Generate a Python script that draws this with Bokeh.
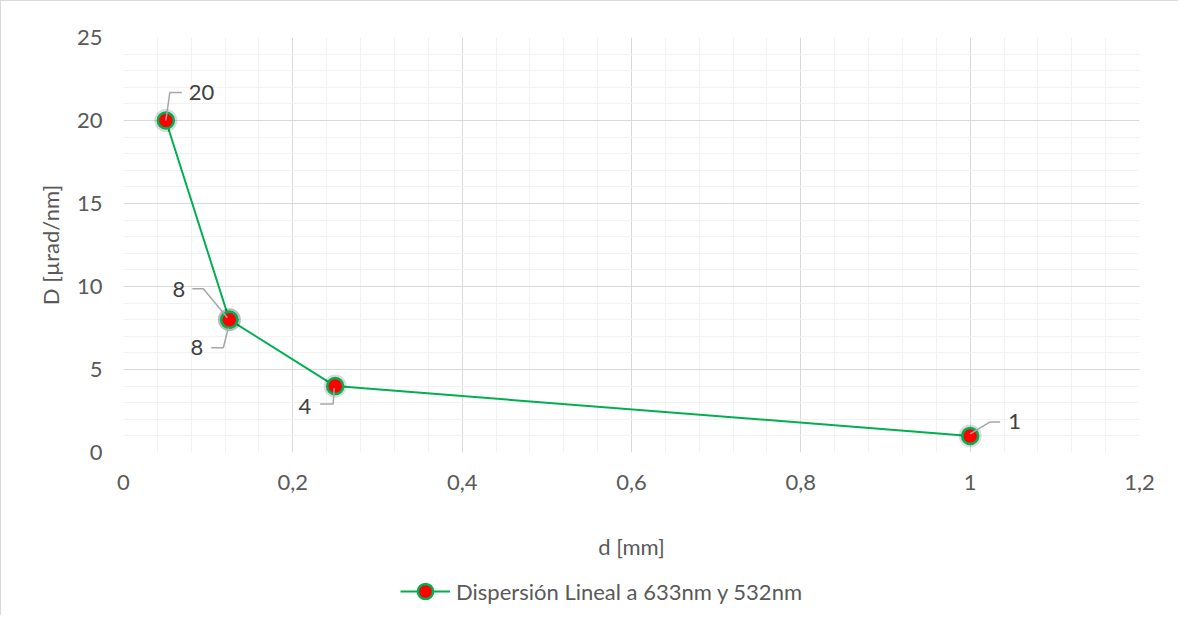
from bokeh.plotting import figure
from bokeh.layouts import column
from bokeh.models import ColumnDataSource, FixedTicker, Legend, LegendItem, Range1d
from bokeh.embed import file_html
from bokeh.resources import INLINE
from bokeh.core.properties import value

# ---------------- data ----------------
x_mm = [0.05, 0.125, 0.125, 0.25, 1.0]
y_disp = [20, 8, 8, 4, 1]
point_labels = ["20", "8", "8", "4", "1"]

x_ticks = [0, 0.2, 0.4, 0.6, 0.8, 1.0, 1.2]
x_tick_labels = ["0", "0,2", "0,4", "0,6", "0,8", "1", "1,2"]
y_ticks = [0, 5, 10, 15, 20, 25]
y_tick_labels = ["0", "5", "10", "15", "20", "25"]

series_name = "Dispersión Lineal a 633nm y 532nm"
x_title = "d [mm]"
y_title = "D [µrad/nm]"

# ---------------- style ----------------
FONT = "Lato"
FS = "22px"
TXT = "#595959"
LBL = "#404040"
GREEN = "#00b050"
RED = "#ff0000"
BORDER = "1px solid #d9d9d9"

X_MAX, Y_MAX = 1.2, 25
FRAME_W, FRAME_H = 1016, 415
PX_X = FRAME_W / X_MAX
PX_Y = FRAME_H / Y_MAX

# label offsets in screen px (x right, y down) and leader paths
label_style = [
    dict(dx=23, dy=-28, align="left",
         path=[(0, 0), (4, -28), (16, -28)]),
    dict(dx=-44, dy=-30, align="right",
         path=[(-2, -2), (-26, -31), (-37, -31)]),
    dict(dx=-26, dy=28, align="right",
         path=[(-1, 8), (-6, 28), (-18, 28)]),
    dict(dx=-24, dy=20, align="right",
         path=[(-1, 2), (-2, 18), (-15, 18)]),
    dict(dx=38, dy=-14, align="left",
         path=[(0, -2), (20, -14), (30, -14)]),
]

p = figure(width=1178, height=570, output_backend="svg", toolbar_location=None,
           x_range=Range1d(0, X_MAX), y_range=Range1d(0, Y_MAX),
           min_border_left=122, min_border_right=40, min_border_top=36,
           min_border_bottom=119)
p.outline_line_color = None
p.background_fill_color = "white"
p.border_fill_color = "white"
p.styles = {"border-left": BORDER, "border-top": BORDER}

p.xaxis.ticker = FixedTicker(ticks=x_ticks,
                             minor_ticks=[round(i * 0.04, 2) for i in range(31)])
p.yaxis.ticker = FixedTicker(ticks=y_ticks, minor_ticks=list(range(26)))
p.xaxis.major_label_overrides = {t: l for t, l in zip(x_ticks, x_tick_labels)}
p.yaxis.major_label_overrides = {t: l for t, l in zip(y_ticks, y_tick_labels)}

for ax in (p.xaxis, p.yaxis):
    ax.axis_line_color = None
    ax.major_tick_line_color = None
    ax.minor_tick_line_color = None
    ax.major_tick_out = 0
    ax.minor_tick_out = 0
    ax.major_label_text_font = FONT
    ax.major_label_text_font_size = FS
    ax.major_label_text_color = TXT
    ax.axis_label_text_font = FONT
    ax.axis_label_text_font_size = FS
    ax.axis_label_text_color = TXT
    ax.axis_label_text_font_style = "normal"

p.xaxis.axis_label = x_title
p.yaxis.axis_label = y_title
p.xaxis.major_label_standoff = 22
p.xaxis.axis_label_standoff = 40
p.yaxis.major_label_standoff = 21
p.yaxis.axis_label_standoff = 10

for g in (p.xgrid, p.ygrid):
    g.grid_line_color = "#d9d9d9"
    g.grid_line_width = 1
    g.minor_grid_line_color = "#f2f2f2"
    g.minor_grid_line_width = 1

src = ColumnDataSource(dict(x=x_mm, y=y_disp, lab=point_labels))

line_style = dict(line_color=GREEN, line_width=2)
marker_style = dict(fill_color=RED, line_color=GREEN, line_width=2.5)

p.line("x", "y", source=src, **line_style)
p.scatter("x", "y", source=src, size=23, fill_color="black", fill_alpha=0.14,
          line_color=None)
p.scatter("x", "y", source=src, size=16, **marker_style)

# leader lines (screen offsets converted through the axis scale)
xs, ys = [], []
for xv, yv, st in zip(x_mm, y_disp, label_style):
    xs.append([xv + px / PX_X for px, _ in st["path"]])
    ys.append([yv - py / PX_Y for _, py in st["path"]])
p.multi_line(xs, ys, line_color="#a6a6a6", line_width=1.5)

for align in ("left", "right"):
    idx = [i for i, st in enumerate(label_style) if st["align"] == align]
    s = ColumnDataSource(dict(
        x=[x_mm[i] for i in idx], y=[y_disp[i] for i in idx],
        t=[point_labels[i] for i in idx],
        dx=[label_style[i]["dx"] for i in idx],
        dy=[label_style[i]["dy"] for i in idx]))
    p.text("x", "y", text="t", source=s, x_offset="dx", y_offset="dy",
           text_align=align, text_baseline="middle",
           text_font=value(FONT), text_font_size=FS, text_color=LBL)

# ---------------- legend strip below the chart ----------------
# (series renderers re-used with a view range that hides them; only the
#  legend entry is visible in this strip)
pl = figure(width=1178, height=45, output_backend="svg", toolbar_location=None,
            x_range=Range1d(10, 11), y_range=Range1d(100, 101),
            x_axis_location=None, y_axis_location=None,
            min_border_left=0, min_border_right=0, min_border_top=0,
            min_border_bottom=0)
pl.grid.visible = False
pl.outline_line_color = None
pl.border_fill_color = "white"
pl.background_fill_color = "white"
pl.styles = {"border-left": BORDER}
lg_line = pl.line("x", "y", source=src, **line_style)
lg_pt = pl.scatter("x", "y", source=src, size=16, **marker_style)

legend = Legend(items=[LegendItem(label=series_name, renderers=[lg_line, lg_pt])],
                location=(277, 5), orientation="horizontal",
                glyph_width=50, glyph_height=38, label_height=38,
                label_standoff=6, padding=0, margin=0,
                border_line_color=None, background_fill_alpha=0,
                label_text_font=FONT, label_text_font_size=FS,
                label_text_color=TXT)
pl.add_layout(legend, "center")

layout = column(p, pl, spacing=0)
open("out.html", "w").write(file_html(layout, INLINE))
